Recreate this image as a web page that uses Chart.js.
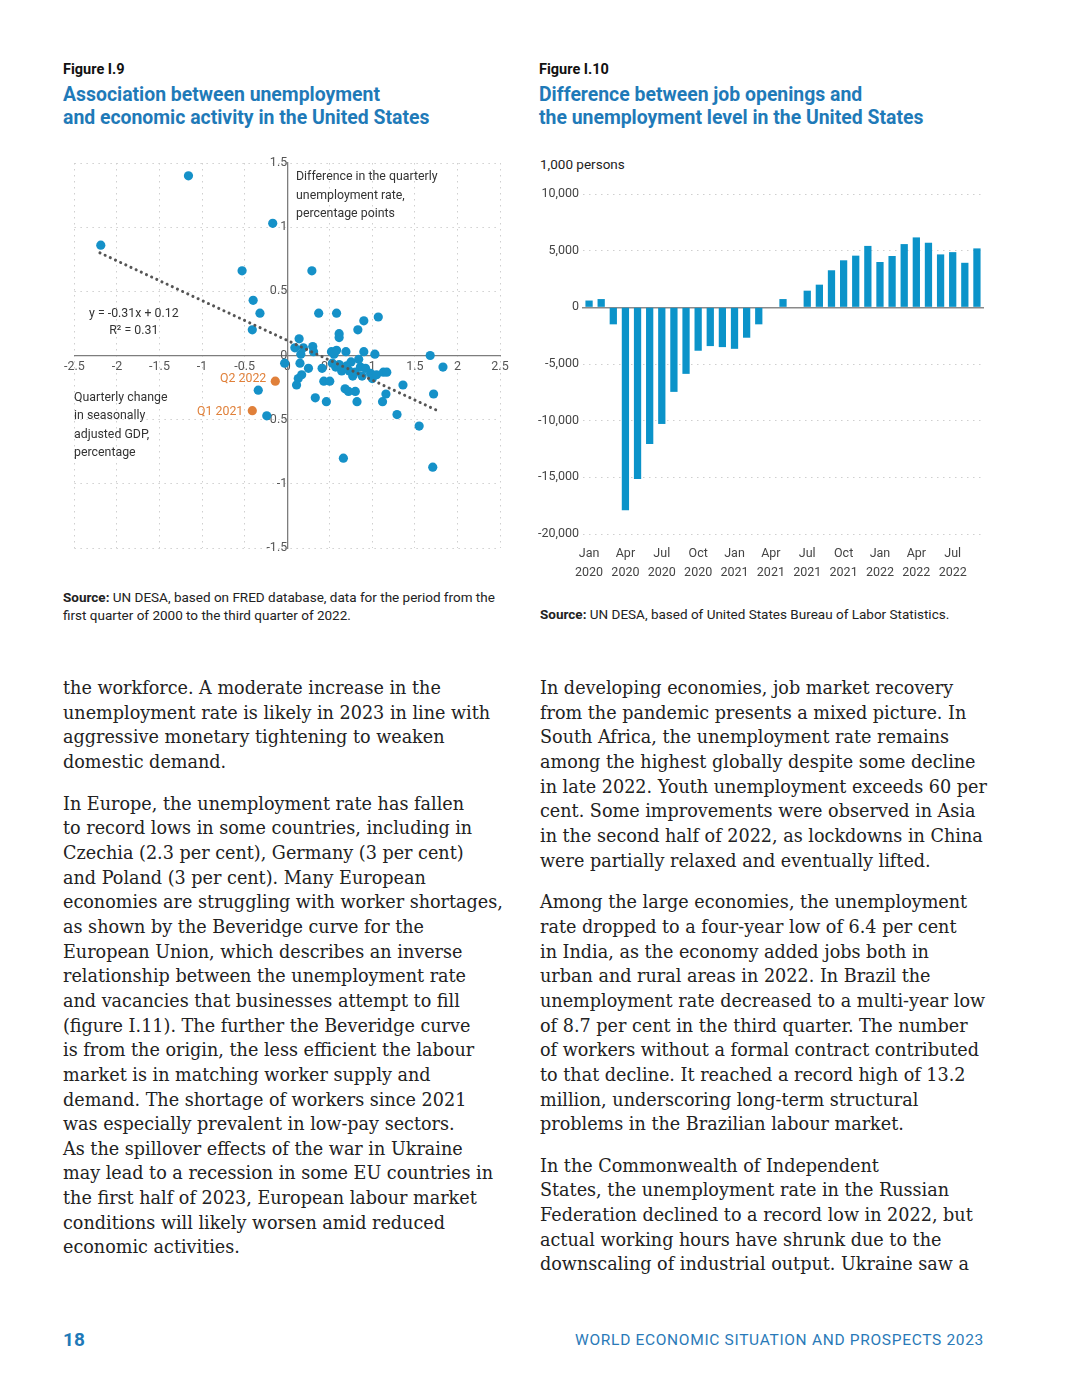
<!DOCTYPE html>
<html>
<head>
<meta charset="utf-8">
<script src="https://cdn.jsdelivr.net/npm/chart.js@4.4.1/dist/chart.umd.min.js"></script>
<style>
  body { margin: 0; width: 1080px; height: 1398px; background: #fff; position: relative; font-family: Roboto, sans-serif; color: #222; overflow: hidden; }
  .abs { position: absolute; white-space: nowrap; }
  .fig { font-weight: 700; font-size: 14.5px; line-height: 18px; color: #111; }
  .title { font-weight: 700; font-size: 19.4px; line-height: 23px; color: #1f7ab8; }
  .src { font-size: 13.5px; line-height: 17.5px; color: #222; }
  .cond { font-size: 13px; color: #333; transform: scaleX(0.95); transform-origin: left top; }
  .body { font-family: "DejaVu Serif", serif; font-size: 17.6px; line-height: 24.65px; color: #222; white-space: pre; }
  .body p { margin: 0 0 17px 0; }
  canvas { display: block; }
</style>
</head>
<body>
<div class="abs fig" style="left:63px;top:61px">Figure I.9</div>
<div class="abs title" style="left:63px;top:83px">Association between unemployment<br>and economic activity in the United States</div>
<div class="abs fig" style="left:539px;top:61px">Figure I.10</div>
<div class="abs title" style="left:539px;top:83px">Difference between job openings and<br>the unemployment level in the United States</div>

<div class="abs" style="left:60px;top:150px;width:455px;height:410px"><canvas id="scatter"></canvas></div>
<div class="abs cond" style="left:296px;top:167px;line-height:18.5px">Difference in the quarterly<br>unemployment rate,<br>percentage points</div>
<div class="abs cond" style="left:89px;top:304px;line-height:17px;text-align:center">y = -0.31x + 0.12<br>R² = 0.31</div>
<div class="abs cond" style="left:74px;top:388px;line-height:18.3px">Quarterly change<br>in seasonally<br>adjusted GDP,<br>percentage</div>
<div class="abs cond" style="left:220px;top:370px;color:#e0803a">Q2 2022</div>
<div class="abs cond" style="left:197px;top:403px;color:#e0803a">Q1 2021</div>

<div class="abs src" style="left:540px;top:156px">1,000 persons</div>
<div class="abs" style="left:530px;top:180px;width:460px;height:405px"><canvas id="bars"></canvas></div>

<div class="abs src" style="left:63px;top:589px"><b>Source:</b> UN DESA, based on FRED database, data for the period from the<br>first quarter of 2000 to the third quarter of 2022.</div>
<div class="abs src" style="left:540px;top:606px"><b>Source:</b> UN DESA, based of United States Bureau of Labor Statistics.</div>

<div class="abs body" style="left:63px;top:676px"><p>the workforce. A moderate increase in the
unemployment rate is likely in 2023 in line with
aggressive monetary tightening to weaken
domestic demand.</p><p>In Europe, the unemployment rate has fallen
to record lows in some countries, including in
Czechia (2.3 per cent), Germany (3 per cent)
and Poland (3 per cent). Many European
economies are struggling with worker shortages,
as shown by the Beveridge curve for the
European Union, which describes an inverse
relationship between the unemployment rate
and vacancies that businesses attempt to fill
(figure I.11). The further the Beveridge curve
is from the origin, the less efficient the labour
market is in matching worker supply and
demand. The shortage of workers since 2021
was especially prevalent in low-pay sectors.
As the spillover effects of the war in Ukraine
may lead to a recession in some EU countries in
the first half of 2023, European labour market
conditions will likely worsen amid reduced
economic activities.</p></div>

<div class="abs body" style="left:540px;top:676px"><p>In developing economies, job market recovery
from the pandemic presents a mixed picture. In
South Africa, the unemployment rate remains
among the highest globally despite some decline
in late 2022. Youth unemployment exceeds 60 per
cent. Some improvements were observed in Asia
in the second half of 2022, as lockdowns in China
were partially relaxed and eventually lifted.</p><p>Among the large economies, the unemployment
rate dropped to a four-year low of 6.4 per cent
in India, as the economy added jobs both in
urban and rural areas in 2022. In Brazil the
unemployment rate decreased to a multi-year low
of 8.7 per cent in the third quarter. The number
of workers without a formal contract contributed
to that decline. It reached a record high of 13.2
million, underscoring long-term structural
problems in the Brazilian labour market.</p><p>In the Commonwealth of Independent
States, the unemployment rate in the Russian
Federation declined to a record low in 2022, but
actual working hours have shrunk due to the
downscaling of industrial output. Ukraine saw a</p></div>

<div class="abs" style="left:63px;top:1328px;font-size:19px;font-weight:700;color:#1f7ab8">18</div>
<div class="abs" style="right:96px;top:1331px;font-size:15.5px;letter-spacing:0.68px;color:#2a7ab8">WORLD ECONOMIC SITUATION AND PROSPECTS 2023</div>

<script>
// Figure I.9: quarterly GDP change (x) vs change in unemployment rate (y)
const gdpChange = [
  -1.16, -0.17, -2.19, -0.53, -0.40, -0.32, -0.41, -0.03, -0.34, -0.24,
  0.29, 0.37, 0.58, 1.07, 0.90, 0.83, 0.61, 0.61, 0.14, 1.68,
  1.83, 0.09, 0.19, 0.30, 0.52, 0.55, 0.58, 0.69, 0.90, 1.03,
  0.16, 0.31, 0.15, 0.25, 0.41, 0.53, 0.57, 0.61, 0.70, 0.73,
  0.77, 0.80, 0.84, 0.86, 0.88, 0.98, 1.00, 1.05, 1.13, 1.17,
  0.43, 0.50, 0.13, 0.17, 0.11, 0.68, 0.72, 0.80, 1.36, 1.16,
  1.72, 0.33, 0.46, 0.82, 1.12, 1.29, 1.55, 0.66, 1.71, 0.64,
  0.75, 0.92
];
const unempChange = [
  1.40, 1.03, 0.86, 0.66, 0.43, 0.33, 0.20, -0.06, -0.27, -0.47,
  0.66, 0.33, 0.33, 0.30, 0.27, 0.20, 0.17, 0.14, 0.13, 0.00,
  -0.09, 0.06, 0.06, 0.07, 0.03, 0.01, 0.04, 0.03, 0.03, 0.01,
  0.01, 0.03, -0.06, -0.10, -0.10, -0.06, -0.09, -0.07, -0.08, -0.12,
  -0.16, -0.13, -0.03, -0.09, -0.16, -0.14, -0.18, -0.15, -0.13, -0.13,
  -0.20, -0.20, -0.18, -0.15, -0.23, -0.26, -0.28, -0.28, -0.23, -0.30,
  -0.30, -0.33, -0.36, -0.36, -0.36, -0.46, -0.55, -0.80, -0.87, -0.12,
  -0.05, -0.10
];
const highlightGdp = [-0.14, -0.41];
const highlightUnemp = [-0.20, -0.43];
const trendX = [-2.2, 1.8];
const trendY = [0.80, -0.44];
const scatterXTicks = [-2.5, -2, -1.5, -1, -0.5, 0, 0.5, 1, 1.5, 2, 2.5];
const scatterYTicks = [-1.5, -1, -0.5, 0, 0.5, 1, 1.5];

// Figure I.10: job openings minus unemployment level, thousands
const months = [
  "Jan 2020", "Feb 2020", "Mar 2020", "Apr 2020", "May 2020", "Jun 2020",
  "Jul 2020", "Aug 2020", "Sep 2020", "Oct 2020", "Nov 2020", "Dec 2020",
  "Jan 2021", "Feb 2021", "Mar 2021", "Apr 2021", "May 2021", "Jun 2021",
  "Jul 2021", "Aug 2021", "Sep 2021", "Oct 2021", "Nov 2021", "Dec 2021",
  "Jan 2022", "Feb 2022", "Mar 2022", "Apr 2022", "May 2022", "Jun 2022",
  "Jul 2022", "Aug 2022", "Sep 2022"
];
const gapValues = [
  600, 730, -1500, -17900, -15150, -12060,
  -10290, -7460, -5870, -3830, -3420, -3510,
  -3660, -2680, -1500, 0, 730, 0,
  1470, 2000, 3270, 4150, 4560, 5420,
  4000, 4530, 5580, 6170, 5700, 4670,
  4870, 3930, 5200
];
const barYTicks = [-20000, -15000, -10000, -5000, 0, 5000, 10000];

const BLUE = "#1591c8";
const ORANGE = "#e0803a";
const tickFont = { family: "Roboto", size: 12.5 };

function dottedGrid() {
  return { color: "#cfcfcf", lineWidth: 1, drawTicks: false };
}

function toPoints(xs, ys) {
  return xs.map((x, i) => ({ x, y: ys[i] }));
}

new Chart(document.getElementById("scatter"), {
  type: "scatter",
  data: {
    datasets: [
      {
        type: "line",
        data: toPoints(trendX, trendY),
        borderColor: "#555",
        borderWidth: 3,
        borderDash: [0.1, 5.6],
        borderCapStyle: "round",
        pointRadius: 0,
        order: 0
      },
      {
        data: toPoints(gdpChange, unempChange),
        backgroundColor: BLUE,
        borderWidth: 0,
        pointRadius: 4.6,
        order: 1
      },
      {
        data: toPoints(highlightGdp, highlightUnemp),
        backgroundColor: ORANGE,
        borderWidth: 0,
        pointRadius: 4.6,
        order: 1
      }
    ]
  },
  options: {
    responsive: true,
    maintainAspectRatio: false,
    animation: false,
    layout: { padding: { left: 14, right: 15, top: 13, bottom: 12 } },
    plugins: { legend: { display: false }, tooltip: { enabled: false } },
    scales: {
      x: {
        type: "linear",
        min: -2.5, max: 2.5,
        position: { y: 0 },
        afterBuildTicks: s => { s.ticks = scatterXTicks.map(v => ({ value: v })); },
        ticks: { font: tickFont, color: "#555", padding: 4, maxRotation: 0, callback: v => String(v) },
        grid: dottedGrid(),
        border: { display: true, color: "#7d7d7d", width: 1.3, dash: [1.5, 4.5] }
      },
      y: {
        type: "linear",
        min: -1.5, max: 1.5,
        position: { x: 0 },
        afterBuildTicks: s => { s.ticks = scatterYTicks.map(v => ({ value: v })); },
        ticks: { font: tickFont, color: "#555", padding: 2, callback: v => String(v) },
        grid: dottedGrid(),
        border: { display: true, color: "#7d7d7d", width: 1.3, dash: [1.5, 4.5] }
      }
    }
  }
});

new Chart(document.getElementById("bars"), {
  type: "bar",
  data: {
    labels: months,
    datasets: [{
      data: gapValues,
      backgroundColor: "#0b93c9",
      categoryPercentage: 1,
      barPercentage: 0.6
    }]
  },
  options: {
    responsive: true,
    maintainAspectRatio: false,
    animation: false,
    layout: { padding: { left: 0, right: 7, top: 14, bottom: 0 } },
    plugins: { legend: { display: false }, tooltip: { enabled: false } },
    scales: {
      x: {
        afterFit: s => { s.height = 51; },
        ticks: {
          font: { family: "Roboto", size: 12.5, lineHeight: 1.52 },
          color: "#444", padding: 2.5, autoSkip: false, maxRotation: 0,
          callback: (v, i) => i % 3 === 0 ? months[i].split(" ") : ""
        },
        grid: { display: false },
        border: { display: false }
      },
      xZero: {
        axis: "x",
        type: "category",
        position: { y: 0 },
        ticks: { display: false },
        grid: { display: false },
        border: { display: true, color: "#8a8a8a", width: 1.5 }
      },
      y: {
        min: -20000, max: 10000,
        afterFit: s => { s.width = 53; },
        afterBuildTicks: s => { s.ticks = barYTicks.map(v => ({ value: v })); },
        ticks: {
          font: tickFont, color: "#444", padding: 4,
          callback: v => v.toLocaleString("en-US")
        },
        grid: dottedGrid(),
        border: { display: false, dash: [1.5, 4.5] }
      }
    }
  }
});
</script>
</body>
</html>
